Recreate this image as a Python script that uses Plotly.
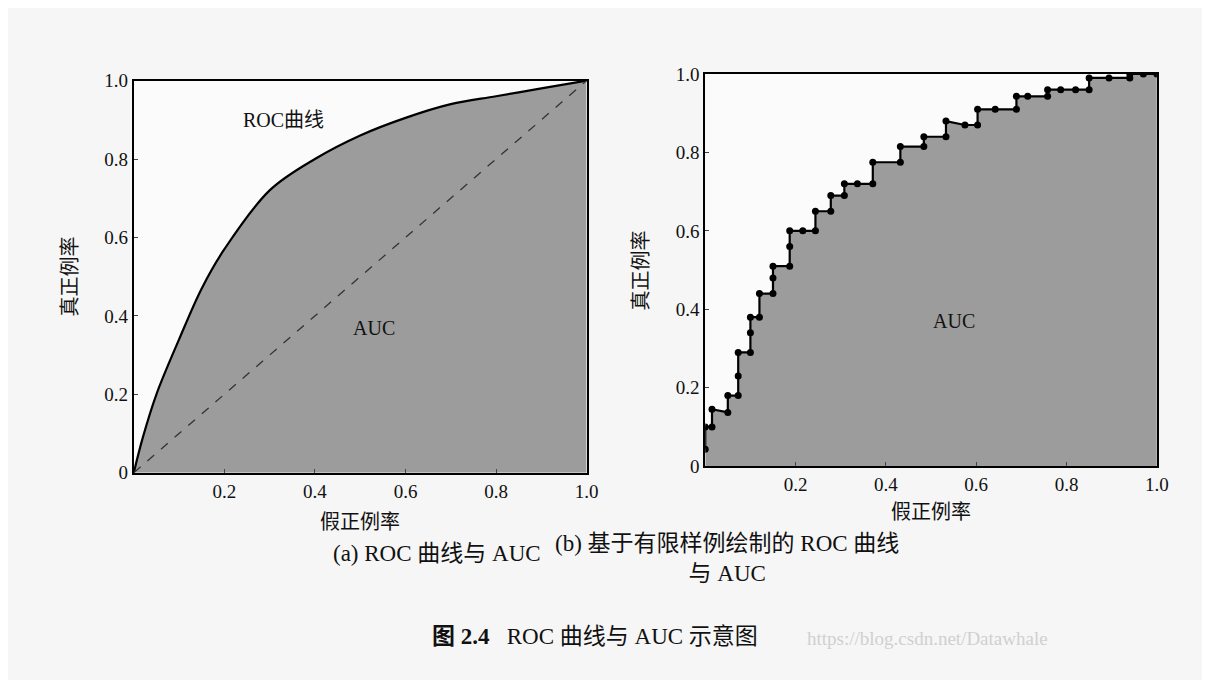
import plotly.graph_objects as go

# panel (a): smooth ROC curve
roc_x = [0, 0.02, 0.05, 0.1, 0.15, 0.2, 0.3, 0.4, 0.5, 0.6, 0.7, 0.8, 0.9, 1.0]
roc_y = [0, 0.09, 0.2, 0.34, 0.47, 0.57, 0.72, 0.80, 0.86, 0.905, 0.94, 0.96, 0.98, 1.0]

# panel (b): ROC from finite samples (step path, corners included)
step_x = [0, 0, 0.015, 0.015, 0.05, 0.05, 0.073, 0.073, 0.073, 0.10, 0.10, 0.10, 0.12, 0.12,
          0.15, 0.15, 0.15, 0.187, 0.187, 0.187, 0.216, 0.244, 0.244, 0.278, 0.278, 0.308, 0.308,
          0.337, 0.371, 0.371, 0.432, 0.432, 0.484, 0.484, 0.533, 0.533, 0.575, 0.603, 0.603,
          0.642, 0.689, 0.689, 0.714, 0.758, 0.758, 0.787, 0.82, 0.85, 0.85, 0.894, 0.94, 0.94,
          0.97, 1.0]
step_y = [0.043, 0.10, 0.10, 0.145, 0.137, 0.18, 0.18, 0.23, 0.29, 0.29, 0.34, 0.38, 0.38, 0.44,
          0.44, 0.48, 0.51, 0.51, 0.56, 0.60, 0.60, 0.60, 0.65, 0.65, 0.69, 0.69, 0.72,
          0.72, 0.72, 0.775, 0.775, 0.815, 0.815, 0.84, 0.84, 0.88, 0.87, 0.87, 0.91,
          0.91, 0.91, 0.943, 0.943, 0.943, 0.96, 0.96, 0.96, 0.96, 0.99, 0.99, 0.99, 1.0,
          1.0, 1.0]

ticks = [0, 0.2, 0.4, 0.6, 0.8, 1.0]
tick_text = ["0", "0.2", "0.4", "0.6", "0.8", "1.0"]
xtick_text = ["", "0.2", "0.4", "0.6", "0.8", "1.0"]

serif = "Liberation Serif, Noto Sans CJK SC"
gray = "#9c9c9c"

fig = go.Figure()
fig.add_trace(go.Scatter(x=roc_x, y=roc_y, mode="lines", fill="tozeroy", fillcolor=gray,
                         line=dict(color="black", width=2.2, shape="spline"), xaxis="x", yaxis="y"))
fig.add_trace(go.Scatter(x=[0, 1], y=[0, 1], mode="lines",
                         line=dict(color="#333", width=1.3, dash="dash"), xaxis="x", yaxis="y"))
fig.add_trace(go.Scatter(x=step_x, y=step_y, mode="lines+markers", fill="tozeroy", fillcolor=gray,
                         line=dict(color="black", width=2.2), marker=dict(color="black", size=7),
                         xaxis="x2", yaxis="y2"))

ax = dict(range=[0, 1], tickvals=ticks, showgrid=False, zeroline=False, showline=True,
          linecolor="black", linewidth=2, mirror=True, ticks="inside", ticklen=4,
          tickfont=dict(family=serif, size=19, color="#111"))
fig.update_layout(
    width=1210, height=680, margin=dict(l=0, r=0, t=0, b=0), showlegend=False,
    paper_bgcolor="#f6f6f6", plot_bgcolor="#fbfbfb",
    xaxis=dict(ax, domain=[0.105, 0.483], ticktext=xtick_text, anchor="y"),
    yaxis=dict(ax, domain=[0.31, 0.905], ticktext=tick_text, anchor="x"),
    xaxis2=dict(ax, domain=[0.582, 0.959], ticktext=xtick_text, anchor="y2"),
    yaxis2=dict(ax, domain=[0.32, 0.915], ticktext=tick_text, anchor="x2"),
)

def note(x, y, text, size=20, xref="paper", yref="paper", color="#111", **kw):
    fig.add_annotation(x=x, y=y, xref=xref, yref=yref, text=text, showarrow=False,
                       font=dict(family=serif, size=size, color=color), **kw)

note(0.33, 0.9, "ROC曲线", xref="x", yref="y")
note(0.53, 0.37, "AUC", xref="x", yref="y")
note(0.55, 0.37, "AUC", xref="x2", yref="y2")
note(-0.17, 0.5, "真正例率", xref="x domain", yref="y domain", textangle=-90)
note(-0.17, 0.5, "真正例率", xref="x2 domain", yref="y2 domain", textangle=-90)
note(0.5, -0.16, "假正例率", xref="x domain", yref="y domain")
note(0.5, -0.15, "假正例率", xref="x2 domain", yref="y2 domain")
note(0.27, 0.165, "(a) ROC 曲线与 AUC", size=23)
note(0.745, 0.225, "(b) 基于有限样例绘制的 ROC 曲线<br>与 AUC", size=23, yanchor="top")
note(0.49, 0.04, "<b>图 2.4</b>   ROC 曲线与 AUC 示意图", size=23)
note(0.87, 0.04, "https://blog.csdn.net/Datawhale", size=19, color="#d0d0d0")

fig.write_html("out.html")
